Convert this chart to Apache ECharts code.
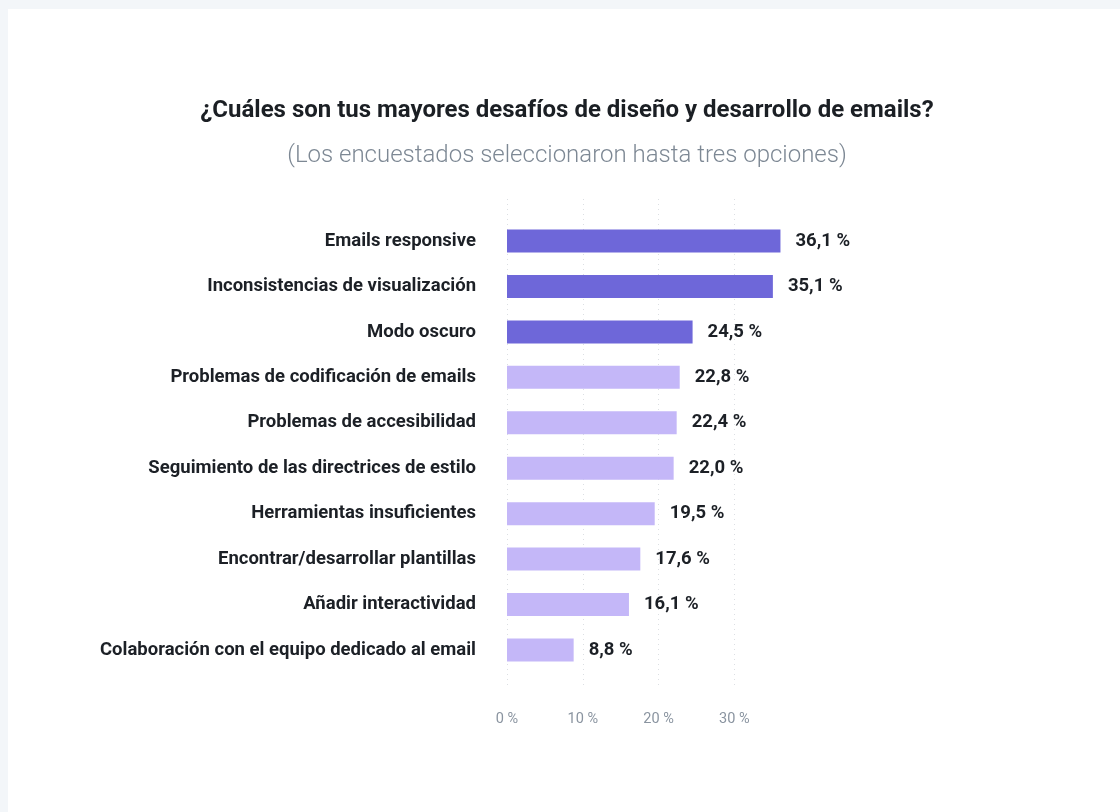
<!DOCTYPE html>
<html>
<head>
<meta charset="utf-8">
<title>Desafíos de diseño y desarrollo de emails</title>
<script src="https://cdn.jsdelivr.net/npm/echarts@6/dist/echarts.min.js"></script>
<style>
  html, body { margin: 0; padding: 0; background: #f3f6f9; width: 1120px; height: 812px; overflow: hidden; }
  #card { position: absolute; left: 8px; top: 9px; width: 1112px; height: 803px; background: #ffffff; }
</style>
</head>
<body>
<div id="card"></div>
<script>
// Survey answers, top to bottom
const categories = [
  'Emails responsive',
  'Inconsistencias de visualización',
  'Modo oscuro',
  'Problemas de codificación de emails',
  'Problemas de accesibilidad',
  'Seguimiento de las directrices de estilo',
  'Herramientas insuficientes',
  'Encontrar/desarrollar plantillas',
  'Añadir interactividad',
  'Colaboración con el equipo dedicado al email'
];
// Share of respondents (%)
const values = [36.1, 35.1, 24.5, 22.8, 22.4, 22.0, 19.5, 17.6, 16.1, 8.8];
// The three most cited answers are highlighted
const highlighted = [true, true, true, false, false, false, false, false, false, false];
const axisTicks = [0, 10, 20, 30];

const titleText = '¿Cuáles son tus mayores desafíos de diseño y desarrollo de emails?';
const subtitleText = '(Los encuestados seleccionaron hasta tres opciones)';

const DARK = '#6e67d9';
const LIGHT = '#c4b7f8';
const FONT = 'Roboto, "Noto Sans", sans-serif';

const fmt = v => v.toFixed(1).replace('.', ',') + ' %';

const chart = echarts.init(document.getElementById('card'), null, { renderer: 'canvas' });

chart.setOption({
  animation: false,
  graphic: [
    {
      type: 'text', silent: true,
      style: { x: 559, y: 102, text: titleText, textAlign: 'center', textVerticalAlign: 'middle',
               font: 'bold 24px ' + FONT, fill: '#1b1f24' }
    },
    {
      type: 'text', silent: true,
      style: { x: 559, y: 147, text: subtitleText, textAlign: 'center', textVerticalAlign: 'middle',
               font: '300 24px ' + FONT, fill: '#7d8894' }
    }
  ],
  grid: [
    // bars
    { left: 499, right: 310, top: 209.3, bottom: 139.3, containLabel: false },
    // dotted guides and tick labels
    { left: 499, right: 310, top: 190, bottom: 123, containLabel: false }
  ],
  xAxis: [
    {
      gridIndex: 0, type: 'value', min: 0, max: 40, interval: 10,
      axisLine: { show: false }, axisTick: { show: false },
      axisLabel: { show: false }, splitLine: { show: false }
    },
    {
      gridIndex: 1, type: 'value', min: 0, max: 40, interval: 10,
      axisLine: { show: false }, axisTick: { show: false },
      axisLabel: {
        margin: 23, showMaxLabel: false,
        fontFamily: FONT, fontSize: 14.5, color: '#8a94a0',
        formatter: v => axisTicks.includes(v) ? v + ' %' : ''
      },
      splitLine: {
        show: true, showMaxLine: false,
        lineStyle: { color: '#dcdfe3', width: 1, type: [1, 4] }
      }
    }
  ],
  yAxis: [
    {
      gridIndex: 0, type: 'category', data: categories, inverse: true,
      axisLine: { show: false }, axisTick: { show: false },
      axisLabel: {
        margin: 31, fontFamily: FONT, fontSize: 18.5, fontWeight: 'bold', color: '#1c2026',
        padding: [2, 0, 0, 0]
      }
    },
    {
      gridIndex: 1, type: 'category', data: [''], show: false
    }
  ],
  series: [
    {
      type: 'bar', xAxisIndex: 0, yAxisIndex: 0,
      barWidth: 23,
      data: values.map((v, i) => ({
        value: v,
        itemStyle: { color: highlighted[i] ? DARK : LIGHT }
      })),
      label: {
        show: true, position: 'right', distance: 15,
        fontFamily: FONT, fontSize: 18.5, fontWeight: 'bold', color: '#1c2026',
        padding: [2, 0, 0, 0],
        formatter: p => fmt(p.value)
      }
    },
    {
      type: 'bar', xAxisIndex: 1, yAxisIndex: 1, data: [], silent: true
    }
  ]
});
</script>
</body>
</html>
